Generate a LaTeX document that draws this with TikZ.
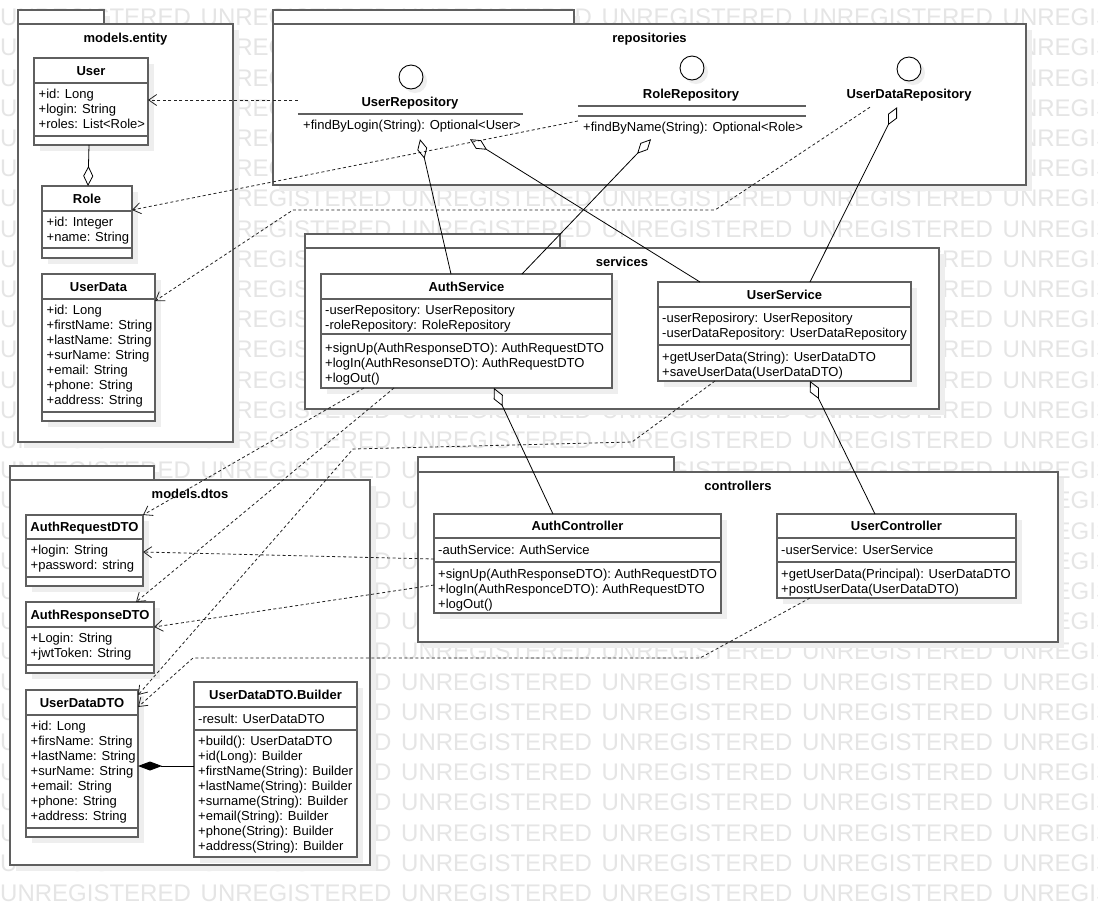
\documentclass[tikz,border=0pt]{standalone}
\usepackage{fontspec}
\setmainfont{Liberation Sans}
\usetikzlibrary{arrows.meta,fit,calc}
\definecolor{boxline}{RGB}{95,95,95}
\definecolor{shadowc}{RGB}{238,238,238}
\definecolor{wmark}{RGB}{229,229,229}
\definecolor{conn}{RGB}{35,35,35}
\tikzset{
  box/.style={draw=boxline, line width=1.3pt, fill=white, inner sep=0pt, outer sep=0pt},
  sepline/.style={draw=boxline, line width=1.3pt},
  ttl/.style={font=\fontsize{13}{15}\selectfont\bfseries, anchor=base, inner sep=0pt},
  txt/.style={font=\fontsize{13}{15}\selectfont, anchor=base west, inner sep=0pt},
  dep/.style={draw=conn, line width=0.8pt, dash pattern=on 3pt off 2.5pt, arrows={-Straight Barb[length=8pt,width=11pt]}},
  agg/.style={draw=black, line width=0.8pt, arrows={Diamond[open,length=20pt,width=10pt]-}},
  comp/.style={draw=black, line width=0.9pt, arrows={Diamond[length=24pt,width=9pt]-}},
  wm/.style={font=\fontsize{24}{24}\selectfont, text=wmark, anchor=base west, inner sep=0pt},
  ifc/.style={circle, draw=black, line width=0.9pt, fill=white, minimum size=24pt, inner sep=0pt},
}
\newcommand{\umlpkg}[8]{% name, x1, tabtop, tabright, maintop, x2, y2, title
  \fill[shadowc] ({#2+6},{#3+6}) rectangle ({#4+6},{#5+6});
  \fill[shadowc] ({#2+6},{#5+6}) rectangle ({#6+6},{#7+6});
  \node[box, fit={(#2,#3) (#4,#5)}] (#1-tab) {};
  \node[box, fit={(#2,#5) (#6,#7)}] (#1) {};
  \node[ttl] (#1-title) at ({(#2+#6)/2},{#5+18.5}) {#8};
}
\newcommand{\umlclass}[8]{% name, x1, y1, x2, y2, title, sep1, sep2
  \fill[shadowc] ({#2+6},{#3+6}) rectangle ({#4+6},{#5+6});
  \node[box, fit={(#2,#3) (#4,#5)}] (#1) {};
  \node[ttl] (#1-title) at ({(#2+#4)/2},{(#3+#7)/2+4.7}) {#6};
  \draw[sepline] (#1.west |- 0,#7) -- (#1.east |- 0,#7);
  \draw[sepline] (#1.west |- 0,#8) -- (#1.east |- 0,#8);
}
\newcommand{\umllines}[4]{% prefix, x, y of first line centre, lines
  \foreach \lineT [count=\i] in {#4} {%
    \node[txt] (#1\i) at (#2,{#3+4.7+15*(\i-1)}) {\lineT};
  }%
}
\begin{document}
\begin{tikzpicture}[x=1pt,y=-1pt]
\useasboundingbox (0,0) rectangle (1098,906);
\fill[white] (0,0) rectangle (1098,906);
% watermark
\foreach \k in {0,...,29} {
  \foreach \j in {0,...,5} {
    \node[wm] (wm-\k-\j) at ({200.5*\j},{25.6+30.2*\k}) {UNREGISTERED};
  }
}
% packages
\umlpkg{ent}{18}{10}{104}{24}{233}{442}{models.entity}
\umlpkg{repo}{273}{10}{574}{24}{1026}{185}{repositories}
\umlpkg{svc}{305}{234}{560}{248}{939}{409}{services}
\umlpkg{ctl}{418}{457}{674}{472}{1058}{642}{controllers}
\umlpkg{dto}{10}{466}{154}{480}{370}{865}{models.dtos}

% models.entity
\umlclass{user}{34}{58}{148}{145}{User}{83}{136}
\umllines{user-a}{38.5}{94}{+id: Long,+login: String,+roles: List<Role>}
\umlclass{role}{42}{186}{132}{258}{Role}{211}{248}
\umllines{role-a}{46.5}{221.5}{+id: Integer,+name: String}
\umlclass{udata}{42}{274}{155}{421}{UserData}{299}{412}
\umllines{udata-a}{46.5}{309.5}{+id: Long,+firstName: String,+lastName: String,+surName: String,+email: String,+phone: String,+address: String}

% repositories (interfaces)
\node[fit={(298,88) (523,139)}, inner sep=0pt] (urepo) {};
\fill[shadowc] (415,81) circle (12);
\node[ifc] (urepo-c) at (411,77) {};
\node[ttl] (urepo-n) at (410,106.5) {UserRepository};
\draw[sepline] (urepo.west |- 0,114) -- (urepo.east |- 0,114);
\node[txt] (urepo-m1) at (303,129.7) {+findByLogin(String): Optional<User>};

\node[fit={(578,85) (806,139)}, inner sep=0pt] (rrepo) {};
\fill[shadowc] (696,72) circle (12);
\node[ifc] (rrepo-c) at (692,68) {};
\node[ttl] (rrepo-n) at (691,98) {RoleRepository};
\draw[sepline] (rrepo.west |- 0,106) -- (rrepo.east |- 0,106);
\draw[sepline] (rrepo.west |- 0,116) -- (rrepo.east |- 0,116);
\node[txt] (rrepo-m1) at (583,131.5) {+findByName(String): Optional<Role>};

\node[fit={(847,85) (971,107)}, inner sep=0pt] (udrepo) {};
\fill[shadowc] (913,73) circle (12);
\node[ifc] (udrepo-c) at (909,69) {};
\node[ttl] (udrepo-n) at (909,98.7) {UserDataRepository};

% services
\umlclass{authsvc}{321}{274}{612}{388}{AuthService}{299}{334}
\umllines{authsvc-a}{325}{309.5}{-userRepository: UserRepository,-roleRepository: RoleRepository}
\umllines{authsvc-o}{325}{348}{+signUp(AuthResponseDTO): AuthRequestDTO,+logIn(AuthResonseDTO): AuthRequestDTO,+logOut()}
\umlclass{usersvc}{658}{282}{911}{381}{UserService}{307}{345}
\umllines{usersvc-a}{662}{318}{-userReposirory: UserRepository,-userDataRepository: UserDataRepository}
\umllines{usersvc-o}{662}{356.5}{+getUserData(String): UserDataDTO,+saveUserData(UserDataDTO)}

% controllers
\umlclass{authctl}{434}{514}{721}{613}{AuthController}{538}{562}
\umllines{authctl-a}{438}{549.5}{-authService: AuthService}
\umllines{authctl-o}{438}{573.5}{+signUp(AuthResponseDTO): AuthRequestDTO,+logIn(AuthResponceDTO): AuthRequestDTO,+logOut()}
\umlclass{userctl}{777}{514}{1016}{598}{UserController}{538}{562}
\umllines{userctl-a}{781}{549.5}{-userService: UserService}
\umllines{userctl-o}{781}{573.5}{+getUserData(Principal): UserDataDTO,+postUserData(UserDataDTO)}

% models.dtos
\umlclass{areq}{26}{515}{143}{586}{AuthRequestDTO}{539}{577}
\umllines{areq-a}{30.5}{549.5}{+login: String,+password: string}
\umlclass{aresp}{26}{602}{154}{673}{AuthResponseDTO}{627}{665}
\umllines{aresp-a}{30.5}{638}{+Login: String,+jwtToken: String}
\umlclass{uddto}{26}{690}{138}{837}{UserDataDTO}{715}{828}
\umllines{uddto-a}{30.5}{725.5}{+id: Long,+firsName: String,+lastName: String,+surName: String,+email: String,+phone: String,+address: String}
\umlclass{builder}{194}{682}{357}{857}{UserDataDTO.Builder}{707}{730}
\umllines{builder-a}{198}{718.5}{-result: UserDataDTO}
\umllines{builder-o}{198}{740.5}{+build(): UserDataDTO,+id(Long): Builder,+firstName(String): Builder,+lastName(String): Builder,+surname(String): Builder,+email(String): Builder,+phone(String): Builder,+address(String): Builder}

% dependencies
\draw[dep] (urepo.west |- 0,100) -- (user.east |- 0,100);
\draw[dep] (rrepo.west |- 0,121) -- (role.east |- 0,210);
\coordinate (c3a) at (715,210);
\coordinate (c3b) at (293,210);
\draw[dep] (udrepo.south -| 870,0) -- (c3a) -- (c3b) -- (udata.east |- 0,301);
\draw[dep] (authsvc.south -| 364,0) -- (areq.north east);
\draw[dep] (authsvc.south -| 394,0) -- (aresp.north -| 136,0);
\coordinate (c6a) at (632,442);
\coordinate (c6b) at (353,449);
\draw[dep] (usersvc.south -| 715,0) -- (c6a) -- (c6b) -- (uddto.east |- 0,695);
\draw[dep] (authctl.west |- 0,559) -- (areq.east |- 0,552);
\draw[dep] (authctl.west |- 0,585) -- (aresp.east |- 0,627);
\coordinate (c9a) at (700,658);
\coordinate (c9b) at (193,658);
\draw[dep] (userctl.south -| 810,0) -- (c9a) -- (c9b) -- (uddto.east |- 0,707);

% aggregations
\draw[agg] (urepo.south -| 420,0) -- (authsvc.north -| 451,0);
\draw[agg] (urepo.south -| 470,0) -- (usersvc.north -| 700,0);
\draw[agg] (rrepo.south -| 651,0) -- (authsvc.north -| 522,0);
\draw[agg] (udrepo.south -| 897,0) -- (usersvc.north -| 810,0);
\draw[agg] (authsvc.south -| 494,0) -- (authctl.north -| 553,0);
\draw[agg] (usersvc.south -| 810,0) -- (userctl.north -| 875,0);
\draw[agg] (role.north -| 88,0) -- (user.south -| 89,0);
\draw[comp] (uddto.east |- 0,766) -- (builder.west |- 0,766);
\end{tikzpicture}
\end{document}
